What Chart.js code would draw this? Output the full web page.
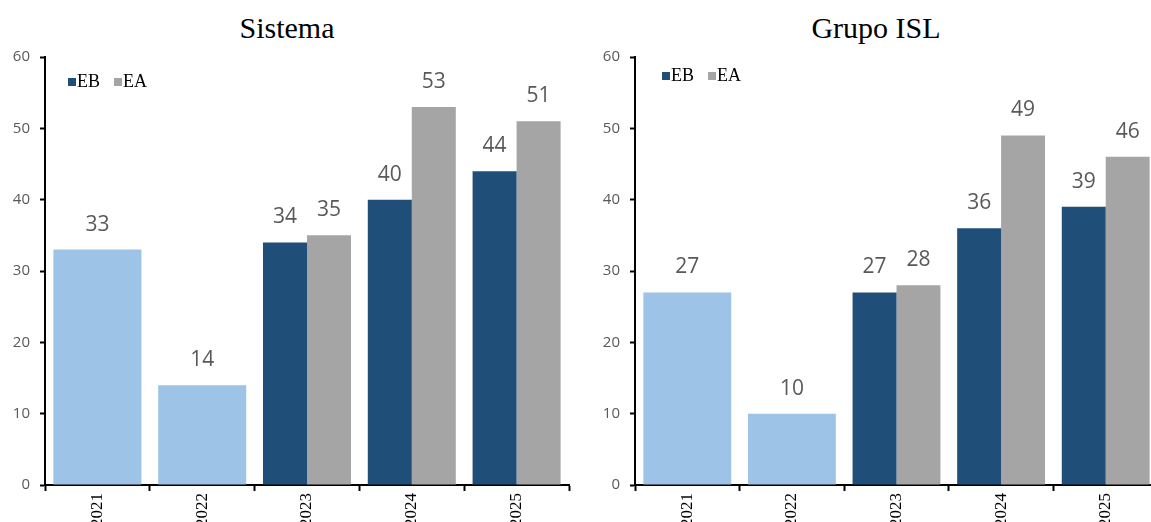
<!DOCTYPE html>
<html>
<head>
<meta charset="utf-8">
<script src="https://cdn.jsdelivr.net/npm/chart.js@4.4.1/dist/chart.umd.min.js"></script>
<style>
  html, body { margin: 0; padding: 0; width: 1151px; height: 522px; overflow: hidden; background: #fff; }
  .panel { position: absolute; top: 0; width: 580px; height: 560px; }
  .title { position: absolute; top: 13px; font-family: "Liberation Serif", "Times New Roman", serif;
           font-size: 30px; color: #000; transform: translateX(-50%); white-space: nowrap; line-height: 1; }
</style>
</head>
<body>
<div class="title" style="left:287px">Sistema</div>
<div class="title" style="left:876px">Grupo ISL</div>
<div class="panel" style="left:0"><canvas id="sistema" width="580" height="560"></canvas></div>
<div class="panel" style="left:590px"><canvas id="isl" width="580" height="560"></canvas></div>
<script>
// Years on the category axis
const years = ['2021', '2022', '2023', '2024', '2025'];

// Sistema: single total for 2021-2022, then EB / EA split
const sistemaTotal = [33, 14, null, null, null];
const sistemaEB = [null, null, 34, 40, 44];
const sistemaEA = [null, null, 35, 53, 51];

// Grupo ISL
const islTotal = [27, 10, null, null, null];
const islEB = [null, null, 27, 36, 39];
const islEA = [null, null, 28, 49, 46];

// Value axis
const yMin = 0, yMax = 60, yStep = 10;

const COLORS = { total: '#9DC3E6', eb: '#1F4E79', ea: '#A5A5A5' };

// Numbers printed above each bar
const valueLabels = {
  id: 'valueLabels',
  afterDatasetsDraw(chart) {
    const ctx = chart.ctx;
    ctx.save();
    ctx.font = '21px "Open Sans", "Noto Sans", sans-serif';
    ctx.fillStyle = '#595959';
    ctx.textAlign = 'center';
    ctx.textBaseline = 'middle';
    chart.data.datasets.forEach((ds, i) => {
      const meta = chart.getDatasetMeta(i);
      meta.data.forEach((bar, j) => {
        const v = ds.data[j];
        if (v == null) return;
        ctx.fillText(String(v), bar.x, bar.y - 25);
      });
    });
    ctx.restore();
  }
};

// Small EB / EA key inside the plot area
const miniLegend = {
  id: 'miniLegend',
  afterDraw(chart, args, opts) {
    const ctx = chart.ctx;
    const area = chart.chartArea;
    let x = area.left + opts.dx;
    const y = area.top + opts.dy;
    ctx.save();
    ctx.font = '18px "Liberation Serif", "Times New Roman", serif';
    ctx.textBaseline = 'middle';
    ctx.textAlign = 'left';
    [['EB', COLORS.eb], ['EA', COLORS.ea]].forEach(([name, col]) => {
      ctx.fillStyle = col;
      ctx.fillRect(x, y - 4, 8, 8);
      ctx.fillStyle = '#000';
      ctx.fillText(name, x + 9, y);
      x += 9 + ctx.measureText(name).width + 14;
    });
    ctx.restore();
  }
};

function makeChart(id, total, eb, ea, legendPos, padRight) {
  return new Chart(document.getElementById(id), {
    type: 'bar',
    data: {
      labels: years,
      datasets: [
        { label: 'Total', data: total, backgroundColor: COLORS.total },
        { label: 'EB', data: eb, backgroundColor: COLORS.eb },
        { label: 'EA', data: ea, backgroundColor: COLORS.ea }
      ]
    },
    options: {
      responsive: false,
      animation: false,
      devicePixelRatio: 1,
      layout: { padding: { top: 57, bottom: 0, left: 0, right: padRight } },
      datasets: { bar: { skipNull: true, categoryPercentage: 0.84, barPercentage: 1.0, borderWidth: 0 } },
      plugins: {
        legend: { display: false },
        tooltip: { enabled: false },
        title: { display: false },
        miniLegend: legendPos
      },
      scales: {
        x: {
          offset: true,
          grid: { display: true, drawOnChartArea: false, drawTicks: true, tickLength: 6, tickWidth: 2, tickColor: '#000', offset: true },
          border: { display: true, color: '#000', width: 2 },
          ticks: {
            maxRotation: 90, minRotation: 90, padding: 2, color: '#000',
            font: { family: '"Liberation Serif", "Times New Roman", serif', size: 17 }
          },
          afterFit(scale) { scale.height = 75; }
        },
        y: {
          min: yMin, max: yMax,
          grid: { display: true, drawOnChartArea: false, drawTicks: true, tickLength: 5, tickWidth: 2, tickColor: '#000' },
          border: { display: true, color: '#000', width: 2 },
          ticks: {
            stepSize: yStep, padding: 10, color: '#595959',
            font: { family: '"Open Sans", "Noto Sans", sans-serif', size: 15 }
          },
          afterFit(scale) { scale.width = 45; }
        }
      }
    },
    plugins: [valueLabels, miniLegend]
  });
}

makeChart('sistema', sistemaTotal, sistemaEB, sistemaEA, { dx: 23, dy: 25 }, 11);
makeChart('isl', islTotal, islEB, islEA, { dx: 27, dy: 19 }, 12);
</script>
</body>
</html>
